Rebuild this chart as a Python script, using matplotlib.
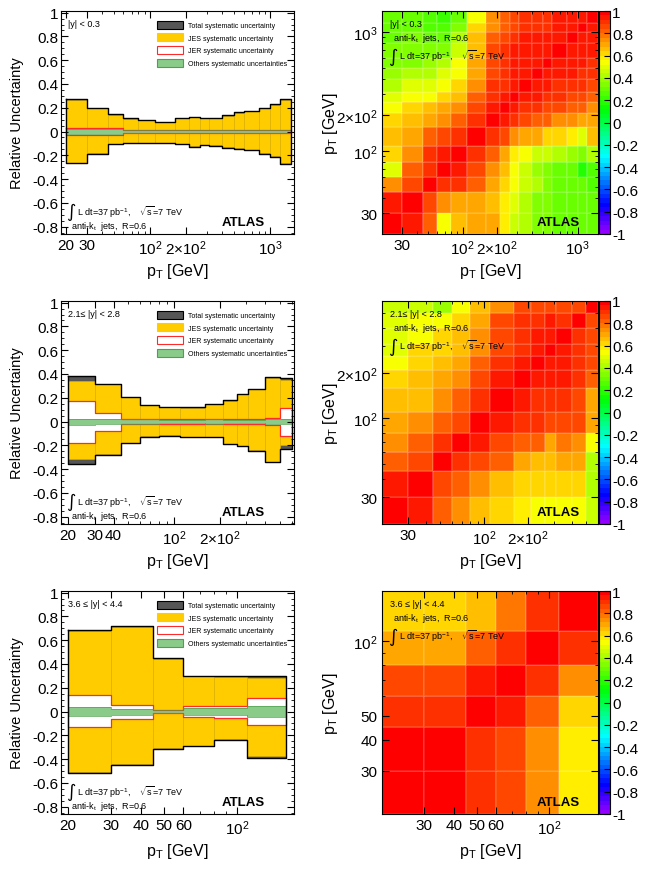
import colorsys
import numpy as np
import matplotlib
matplotlib.use('Agg')
import matplotlib.pyplot as plt
from matplotlib.colors import ListedColormap
from matplotlib.patches import Patch
from matplotlib.transforms import offset_copy
from matplotlib.ticker import FixedLocator, FixedFormatter, LogLocator, NullFormatter, MultipleLocator, FuncFormatter

plt.rcParams['font.family'] = ['Liberation Sans', 'DejaVu Sans']
plt.rcParams['mathtext.fontset'] = 'custom'
plt.rcParams['mathtext.rm'] = 'Liberation Sans'
plt.rcParams['mathtext.it'] = 'Liberation Sans:italic'
plt.rcParams['mathtext.bf'] = 'Liberation Sans:bold'

# ---------------- data ----------------
regions = ['|y| < 0.3', '2.1\u2264 |y| < 2.8', '3.6 \u2264 |y| < 4.4']

edges_0 = [20, 30, 45, 60, 80, 110, 160, 210, 260, 310, 400, 500, 600, 800, 1000, 1200, 1500]
edges_1 = [20, 30, 45, 60, 80, 110, 160, 210, 260, 310, 400, 500, 600]
edges_2 = [20, 30, 45, 60, 80, 110, 160]

# |y| < 0.3
tot_up_0 = [0.270, 0.200, 0.145, 0.110, 0.097, 0.082, 0.118, 0.124, 0.115, 0.118, 0.137, 0.163, 0.175, 0.198, 0.228, 0.272]
tot_dn_0 = [0.264, 0.187, 0.106, 0.096, 0.100, 0.097, 0.107, 0.128, 0.115, 0.120, 0.135, 0.143, 0.157, 0.185, 0.213, 0.272]
jes_up_0 = [0.267, 0.197, 0.142, 0.107, 0.094, 0.079, 0.115, 0.121, 0.112, 0.115, 0.134, 0.160, 0.172, 0.195, 0.225, 0.268]
jes_dn_0 = [0.261, 0.184, 0.103, 0.093, 0.097, 0.094, 0.104, 0.125, 0.112, 0.117, 0.132, 0.140, 0.154, 0.182, 0.210, 0.268]
jer_up_0 = [0.032, 0.032, 0.026, 0.012, 0.012, 0.012, 0.012, 0.012, 0.012, 0.012, 0.012, 0.012, 0.012, 0.012, 0.014, 0.014]
jer_dn_0 = [0.032, 0.032, 0.026, 0.012, 0.012, 0.012, 0.012, 0.012, 0.012, 0.012, 0.012, 0.012, 0.012, 0.012, 0.014, 0.014]
oth_up_0 = [0.020, 0.020, 0.018, 0.010, 0.010, 0.009, 0.009, 0.009, 0.009, 0.009, 0.009, 0.009, 0.009, 0.010, 0.012, 0.014]
oth_dn_0 = [0.020, 0.020, 0.018, 0.010, 0.010, 0.009, 0.009, 0.009, 0.009, 0.009, 0.009, 0.009, 0.009, 0.010, 0.012, 0.014]

# 2.1 <= |y| < 2.8
tot_up_1 = [0.379, 0.317, 0.210, 0.143, 0.126, 0.121, 0.149, 0.177, 0.233, 0.275, 0.374, 0.368]
tot_dn_1 = [0.357, 0.278, 0.183, 0.126, 0.118, 0.132, 0.132, 0.188, 0.210, 0.244, 0.343, 0.230]
jes_up_1 = [0.340, 0.312, 0.206, 0.140, 0.123, 0.118, 0.146, 0.174, 0.230, 0.271, 0.370, 0.350]
jes_dn_1 = [0.315, 0.273, 0.180, 0.123, 0.115, 0.129, 0.129, 0.185, 0.207, 0.240, 0.340, 0.200]
jer_up_1 = [0.172, 0.075, 0.020, 0.020, 0.020, 0.020, 0.020, 0.020, 0.020, 0.020, 0.030, 0.115]
jer_dn_1 = [0.180, 0.083, 0.022, 0.022, 0.022, 0.022, 0.022, 0.022, 0.022, 0.022, 0.032, 0.118]
oth_up_1 = [0.025, 0.018, 0.018, 0.020, 0.014, 0.014, 0.018, 0.012, 0.012, 0.012, 0.020, 0.022]
oth_dn_1 = [0.025, 0.018, 0.018, 0.020, 0.014, 0.014, 0.018, 0.012, 0.012, 0.012, 0.020, 0.022]

# 3.6 <= |y| < 4.4
tot_up_2 = [0.683, 0.719, 0.449, 0.303, 0.295, 0.303]
tot_dn_2 = [0.517, 0.447, 0.315, 0.292, 0.236, 0.390]
jes_up_2 = [0.675, 0.712, 0.443, 0.298, 0.290, 0.280]
jes_dn_2 = [0.505, 0.440, 0.310, 0.287, 0.232, 0.375]
jer_up_2 = [0.135, 0.058, 0.015, 0.045, 0.050, 0.112]
jer_dn_2 = [0.132, 0.062, 0.015, 0.048, 0.056, 0.112]
oth_up_2 = [0.035, 0.025, 0.014, 0.028, 0.030, 0.045]
oth_dn_2 = [0.035, 0.025, 0.014, 0.028, 0.030, 0.045]

# correlation matrices, rows listed from the highest pT bin down to the lowest
corr_0 = [
    [0.30, 0.30, 0.25, 0.20, 0.30, 0.55, 0.75, 0.80, 0.85, 0.90, 0.90, 0.90, 0.95, 0.95, 0.95, 1.00],
    [0.30, 0.30, 0.26, 0.25, 0.35, 0.60, 0.75, 0.80, 0.85, 0.90, 0.90, 0.90, 0.95, 0.95, 1.00, 0.95],
    [0.30, 0.32, 0.30, 0.30, 0.40, 0.65, 0.80, 0.85, 0.90, 0.92, 0.95, 0.95, 0.95, 1.00, 0.95, 0.95],
    [0.32, 0.35, 0.33, 0.35, 0.45, 0.65, 0.85, 0.90, 0.95, 0.95, 0.95, 0.95, 1.00, 0.95, 0.95, 0.95],
    [0.35, 0.35, 0.38, 0.42, 0.52, 0.70, 0.85, 0.90, 0.95, 0.95, 0.95, 1.00, 0.95, 0.95, 0.95, 0.90],
    [0.38, 0.42, 0.42, 0.48, 0.55, 0.70, 0.85, 0.90, 0.95, 0.95, 1.00, 0.95, 0.95, 0.95, 0.90, 0.90],
    [0.42, 0.48, 0.48, 0.52, 0.60, 0.75, 0.90, 0.90, 0.95, 1.00, 0.95, 0.95, 0.90, 0.90, 0.90, 0.85],
    [0.48, 0.52, 0.55, 0.60, 0.65, 0.80, 0.90, 0.95, 1.00, 0.95, 0.95, 0.90, 0.90, 0.85, 0.85, 0.80],
    [0.55, 0.60, 0.65, 0.70, 0.75, 0.85, 0.95, 1.00, 0.95, 0.90, 0.90, 0.85, 0.85, 0.80, 0.80, 0.75],
    [0.60, 0.65, 0.70, 0.75, 0.80, 0.90, 1.00, 0.95, 0.90, 0.85, 0.80, 0.80, 0.75, 0.75, 0.70, 0.70],
    [0.65, 0.70, 0.80, 0.85, 0.90, 1.00, 0.90, 0.85, 0.75, 0.70, 0.68, 0.62, 0.62, 0.58, 0.50, 0.65],
    [0.60, 0.75, 0.90, 0.95, 1.00, 0.90, 0.80, 0.70, 0.58, 0.52, 0.45, 0.45, 0.40, 0.38, 0.35, 0.40],
    [0.50, 0.80, 0.90, 1.00, 0.95, 0.85, 0.75, 0.65, 0.52, 0.45, 0.38, 0.35, 0.30, 0.28, 0.18, 0.25],
    [0.75, 0.85, 1.00, 0.90, 0.90, 0.80, 0.70, 0.62, 0.52, 0.45, 0.40, 0.35, 0.30, 0.30, 0.28, 0.25],
    [0.95, 1.00, 0.85, 0.75, 0.70, 0.70, 0.65, 0.58, 0.48, 0.42, 0.35, 0.33, 0.30, 0.28, 0.28, 0.28],
    [1.00, 0.95, 0.80, 0.55, 0.65, 0.70, 0.70, 0.58, 0.45, 0.40, 0.35, 0.32, 0.30, 0.28, 0.28, 0.28],
]
corr_1 = [
    [0.45, 0.45, 0.38, 0.55, 0.65, 0.75, 0.85, 0.85, 0.85, 0.85, 0.85, 1.00],
    [0.50, 0.55, 0.55, 0.60, 0.70, 0.85, 0.90, 0.90, 0.92, 0.90, 1.00, 0.85],
    [0.50, 0.55, 0.60, 0.65, 0.75, 0.85, 0.90, 0.95, 0.95, 1.00, 0.90, 0.85],
    [0.50, 0.60, 0.60, 0.65, 0.75, 0.85, 0.90, 0.95, 1.00, 0.95, 0.90, 0.85],
    [0.55, 0.60, 0.65, 0.70, 0.80, 0.90, 0.95, 1.00, 0.95, 0.95, 0.90, 0.85],
    [0.60, 0.65, 0.70, 0.75, 0.85, 0.95, 1.00, 0.95, 0.95, 0.95, 0.90, 0.80],
    [0.65, 0.65, 0.75, 0.80, 0.90, 1.00, 0.95, 0.90, 0.90, 0.90, 0.85, 0.70],
    [0.68, 0.75, 0.80, 0.85, 1.00, 0.95, 0.90, 0.90, 0.85, 0.85, 0.85, 0.70],
    [0.75, 0.80, 0.90, 1.00, 0.95, 0.85, 0.80, 0.80, 0.70, 0.78, 0.72, 0.55],
    [0.82, 0.85, 1.00, 0.90, 0.85, 0.80, 0.70, 0.65, 0.65, 0.70, 0.70, 0.40],
    [0.92, 1.00, 0.85, 0.80, 0.75, 0.65, 0.60, 0.60, 0.60, 0.60, 0.60, 0.42],
    [1.00, 0.92, 0.82, 0.72, 0.65, 0.60, 0.58, 0.55, 0.55, 0.55, 0.55, 0.45],
]
corr_2 = [
    [0.62, 0.62, 0.65, 0.78, 0.88, 1.00],
    [0.70, 0.70, 0.80, 0.90, 1.00, 0.88],
    [0.85, 0.85, 0.92, 1.00, 0.90, 0.75],
    [0.90, 0.90, 1.00, 0.92, 0.80, 0.62],
    [0.97, 1.00, 0.90, 0.85, 0.75, 0.58],
    [1.00, 0.97, 0.90, 0.85, 0.72, 0.58],
]

band_xticks = [[20, 30, 100, 200, 1000], [20, 30, 40, 100, 200], [20, 30, 40, 50, 60, 100]]
band_xlabels = [['20', '30', '10$^{2}$', '2$\\times$10$^{2}$', '10$^{3}$'],
                ['20', '30', '40', '10$^{2}$', '2$\\times$10$^{2}$'],
                ['20', '30', '40', '50', '60', '10$^{2}$']]
band_xlim = [(18.1, 1580), (18.0, 620), (18.7, 172)]
corr_xticks = [[30, 100, 200, 1000], [30, 100, 200], [30, 40, 50, 60, 100]]
corr_xlabels = [['30', '10$^{2}$', '2$\\times$10$^{2}$', '10$^{3}$'],
                ['30', '10$^{2}$', '2$\\times$10$^{2}$'],
                ['30', '40', '50', '60', '10$^{2}$']]
corr_yticks = [[30, 100, 200, 1000], [30, 100, 200], [30, 40, 50, 100]]
corr_ylabels = [['30', '10$^{2}$', '2$\\times$10$^{2}$', '10$^{3}$'],
                ['30', '10$^{2}$', '2$\\times$10$^{2}$'],
                ['30', '40', '50', '10$^{2}$']]

# ROOT "pretty" palette: 50 hues from violet to red
pal = [colorsys.hls_to_rgb((280 - (i + 1) * 280 / 50) / 360, 0.5, 1.0) for i in range(50)]
root_cmap = ListedColormap(pal)

C_TOT = '#555555'
C_JES = '#ffcc00'
C_JER = '#ff2a2a'
C_OTH = '#8acb8a'
C_OTH_E = '#4f9f4f'

lumi_txt = r'L dt=37 pb$^{-1}$,    $\sqrt{\mathrm{s}}$=7 TeV'
jets_txt = r'anti-k$_{\mathrm{t}}$  jets,  R=0.6'
pt_txt = r'p$_{\mathrm{T}}$ [GeV]'


def num_fmt(v, _):
    return '%g' % (round(v, 2) + 0.0)


def outline(ax, edges, up, dn, **kw):
    e = np.asarray(edges, float)
    x = np.repeat(e, 2)[1:-1]
    yu = np.repeat(up, 2)
    yd = -np.repeat(dn, 2)
    ax.plot(np.concatenate([x, x[::-1], x[:1]]),
            np.concatenate([yu, yd[::-1], yu[:1]]), **kw)


def log_ticks(axis, ticks, labels):
    axis.set_major_locator(FixedLocator(ticks))
    axis.set_major_formatter(FixedFormatter(labels))
    axis.set_minor_locator(LogLocator(base=10, subs=np.arange(2, 10), numticks=30))
    axis.set_minor_formatter(NullFormatter())


def lumi_label(ax, x, y):
    # tall integral sign followed by the luminosity text
    ax.text(x, y, '\u222b', transform=ax.transAxes, fontsize=13, va='center',
            family='DejaVu Sans')
    tr = offset_copy(ax.transAxes, fig=ax.figure, x=7.5, y=0, units='points')
    ax.text(x, y, lumi_txt, transform=tr, fontsize=6.5, va='center')


def band_panel(ax, k, edges, tu, td, ju, jd, ru, rd, ou, od):
    e = np.asarray(edges, float)
    w = np.diff(e)
    ax.bar(e[:-1], np.add(tu, td), bottom=-np.asarray(td), width=w, align='edge',
           color=C_TOT, lw=0)
    ax.bar(e[:-1], np.add(ju, jd), bottom=-np.asarray(jd), width=w, align='edge',
           color=C_JES, edgecolor='#e3b400', lw=0.4)
    ax.bar(e[:-1], np.add(ru, rd), bottom=-np.asarray(rd), width=w, align='edge',
           color='white', lw=0)
    outline(ax, edges, ru, rd, color=C_JER, lw=0.9)
    ax.bar(e[:-1], np.add(ou, od), bottom=-np.asarray(od), width=w, align='edge',
           color=C_OTH, lw=0)
    outline(ax, edges, ou, od, color=C_OTH_E, lw=0.5)
    outline(ax, edges, tu, td, color='black', lw=1.0)

    ax.set_xscale('log')
    ax.set_xlim(*band_xlim[k])
    ax.set_ylim(-0.862, 1.014)
    log_ticks(ax.xaxis, band_xticks[k], band_xlabels[k])
    ax.yaxis.set_major_locator(MultipleLocator(0.2))
    ax.yaxis.set_minor_locator(MultipleLocator(0.05))
    ax.yaxis.set_major_formatter(FuncFormatter(num_fmt))
    ax.tick_params(which='both', direction='in', top=True, right=True, labelsize=11)
    ax.tick_params(which='major', length=5, pad=3)
    ax.tick_params(which='minor', length=2.5)
    ax.tick_params(axis='y', which='major', pad=2)
    ax.set_ylabel('Relative Uncertainty', fontsize=10.5)
    ax.yaxis.set_label_coords(-0.159, 0.5)
    ax.set_xlabel(pt_txt, fontsize=11.5)
    ax.xaxis.set_label_coords(0.5, -0.122)

    handles = [Patch(facecolor=C_TOT, edgecolor='black', lw=0.8, label='Total systematic uncertainty'),
               Patch(facecolor=C_JES, edgecolor=C_JES, lw=0.8, label='JES systematic uncertainty'),
               Patch(facecolor='white', edgecolor=C_JER, lw=0.8, label='JER systematic uncertainty'),
               Patch(facecolor=C_OTH, edgecolor=C_OTH_E, lw=0.8, label='Others systematic uncertainties')]
    ax.legend(handles=handles, loc='upper left', bbox_to_anchor=(0.412, 0.957), frameon=False,
              fontsize=5, handlelength=3.75, handleheight=1.44, labelspacing=0.62,
              handletextpad=0.72, borderpad=0, borderaxespad=0)

    ax.text(0.03, 0.946, regions[k], transform=ax.transAxes, fontsize=6.5, va='center')
    lumi_label(ax, 0.022, 0.103)
    ax.text(0.045, 0.036, jets_txt, transform=ax.transAxes, fontsize=6.5, va='center')
    ax.text(0.691, 0.054, 'ATLAS', transform=ax.transAxes, fontsize=9.5,
            fontweight='bold', va='center')


def corr_panel(fig, ax, cax, k, edges, corr):
    e = np.asarray(edges, float)
    ax.set_xscale('log')
    ax.set_yscale('log')
    C = np.array(corr)[::-1]
    m = ax.pcolormesh(e, e, C, cmap=root_cmap, vmin=-1, vmax=1,
                      edgecolors=(1, 1, 1, 0.12), linewidth=0.3)
    ax.set_xlim(e[0], e[-1])
    ax.set_ylim(e[0], e[-1])
    log_ticks(ax.xaxis, corr_xticks[k], corr_xlabels[k])
    log_ticks(ax.yaxis, corr_yticks[k], corr_ylabels[k])
    ax.tick_params(which='both', direction='in', top=True, right=True, labelsize=11)
    ax.tick_params(which='major', length=5, pad=3)
    ax.tick_params(which='minor', length=2.5)
    ax.set_xlabel(pt_txt, fontsize=11.5)
    ax.xaxis.set_label_coords(0.5, -0.122)
    ax.set_ylabel(pt_txt, fontsize=11.5)
    ax.yaxis.set_label_coords(-0.194, 0.5)

    ax.text(0.037, 0.946, regions[k], transform=ax.transAxes, fontsize=6.5, va='center')
    ax.text(0.05, 0.883, jets_txt, transform=ax.transAxes, fontsize=6.5, va='center')
    lumi_label(ax, 0.03, 0.80)
    ax.text(0.718, 0.054, 'ATLAS', transform=ax.transAxes, fontsize=9.5,
            fontweight='bold', va='center')

    cb = fig.colorbar(m, cax=cax)
    cb.set_ticks(np.arange(-1, 1.01, 0.2))
    cb.ax.yaxis.set_major_formatter(FuncFormatter(num_fmt))
    cb.ax.yaxis.set_minor_locator(FixedLocator([]))
    cb.ax.tick_params(direction='in', length=4, labelsize=11, pad=1.5, width=0.8)
    cb.outline.set_linewidth(0.8)


W, H = 650, 870
fig = plt.figure(figsize=(W / 100, H / 100), dpi=100)


def px_axes(x0, y0, x1, y1):
    return fig.add_axes([x0 / W, 1 - y1 / H, (x1 - x0) / W, (y1 - y0) / H])


tops = [12, 302, 592]
band_data = [
    (edges_0, tot_up_0, tot_dn_0, jes_up_0, jes_dn_0, jer_up_0, jer_dn_0, oth_up_0, oth_dn_0),
    (edges_1, tot_up_1, tot_dn_1, jes_up_1, jes_dn_1, jer_up_1, jer_dn_1, oth_up_1, oth_dn_1),
    (edges_2, tot_up_2, tot_dn_2, jes_up_2, jes_dn_2, jer_up_2, jer_dn_2, oth_up_2, oth_dn_2),
]
corr_data = [(edges_0, corr_0), (edges_1, corr_1), (edges_2, corr_2)]

for k in range(3):
    t = tops[k]
    axl = px_axes(61, t, 294, t + 223)
    band_panel(axl, k, *band_data[k])
    axr = px_axes(382, t, 598, t + 223)
    cax = px_axes(599, t, 610, t + 223)
    corr_panel(fig, axr, cax, k, *corr_data[k])

fig.savefig('out.png', dpi=100)
